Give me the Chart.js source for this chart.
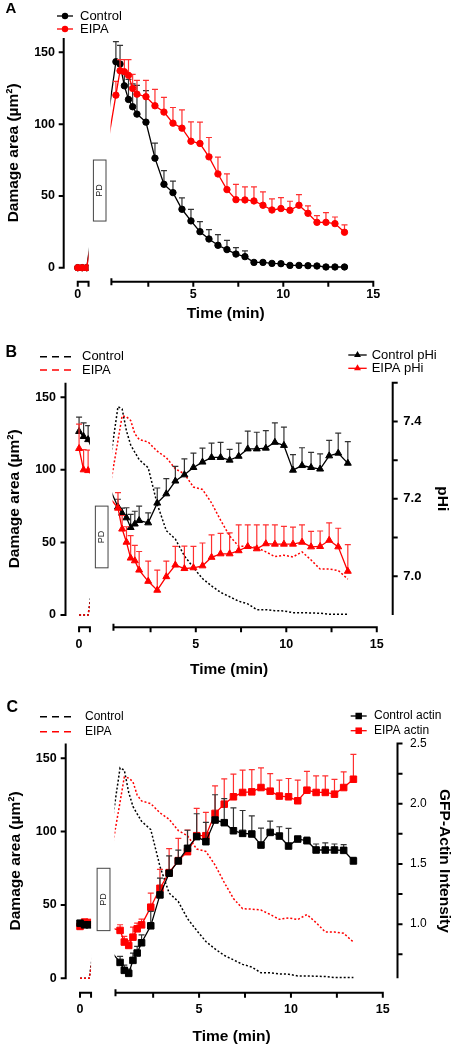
<!DOCTYPE html>
<html>
<head>
<meta charset="utf-8">
<script src="https://cdn.jsdelivr.net/npm/chart.js@4/dist/chart.umd.min.js"></script>
<style>
  body { margin: 0; background: #fff; }
  canvas { display: block; }
</style>
</head>
<body>
<canvas id="panelA" width="458" height="330"></canvas>
<canvas id="panelB" width="458" height="360"></canvas>
<canvas id="panelC" width="458" height="360"></canvas>
<script>
// sampling times (min): before photodamage, then after it
const preTimes = [0, 0.25, 0.5];
const times = [0.7, 0.93, 1.17, 1.4, 1.63, 1.87, 2.37, 2.87, 3.37, 3.87, 4.37, 4.87, 5.37, 5.87,
  6.37, 6.87, 7.37, 7.87, 8.37, 8.87, 9.37, 9.87, 10.37, 10.87, 11.37, 11.87, 12.37, 12.87, 13.4];

// damage area (um2)
const ctrlPreArea = [0, 0, 0];
const eipaPreArea = [0, 0, 0];
const preAreaErr = [0, 0, 0];
const ctrlArea = [143.5, 141.9, 126.7, 117.2, 112.1, 107.0, 101.4, 76.3, 58.1, 52.3, 40.7, 32.6, 25.1, 20.0,
  15.6, 12.6, 9.5, 7.7, 3.7, 3.7, 3.0, 2.8, 1.6, 1.6, 1.4, 1.2, 0.5, 0.5, 0.5];
const ctrlAreaErr = [14, 13, 10, 14, 16, 20, 22, 10.5, 9.5, 8, 8, 8, 7, 6.5,
  7.5, 6.5, 4.5, 4, 1, 1, 0.8, 0.8, 0.6, 0.6, 0.5, 0.5, 0.4, 0.4, 0.4];
const eipaArea = [120.2, 137.2, 136.5, 134.0, 124.9, 120.9, 119.1, 112.8, 108.4, 100.7, 97.2, 88.1, 86.5, 77.2,
  65.3, 54.4, 47.4, 47.2, 46.5, 43.5, 40.2, 41.2, 40.0, 43.5, 37.9, 31.6, 31.6, 30.7, 24.7];
const eipaAreaErr = [9.6, 7.7, 8.4, 10.9, 9.8, 9.6, 11.4, 11.4, 10.2, 10.9, 12.8, 13.5, 14.9, 13.5,
  11.7, 10.9, 10.7, 9.1, 9.8, 9.3, 7.7, 7.6, 6.3, 7.4, 5.1, 4.7, 6.8, 4.6, 5.1];

// intracellular pH
const ctrlPrePH = [7.374, 7.361, 7.353];
const ctrlPrePHErr = [0.037, 0.035, 0.036];
const eipaPrePH = [7.33, 7.275, 7.273];
const eipaPrePHErr = [0.063, 0.052, 0.053];
const ctrlPH = [7.179, 7.163, 7.151, 7.126, 7.135, 7.144, 7.138, 7.189, 7.213, 7.246, 7.262, 7.281, 7.295, 7.307,
  7.307, 7.300, 7.310, 7.329, 7.329, 7.331, 7.346, 7.338, 7.274, 7.286, 7.281, 7.277, 7.311, 7.318, 7.292];
const ctrlPHErr = [0.02, 0.013, 0.026, 0.034, 0.033, 0.037, 0.026, 0.039, 0.039, 0.038, 0.041, 0.037, 0.036, 0.037,
  0.039, 0.028, 0.034, 0.046, 0.043, 0.045, 0.05, 0.047, 0.04, 0.046, 0.039, 0.039, 0.04, 0.052, 0.056];
const eipaPH = [7.176, 7.122, 7.088, 7.047, 7.040, 7.016, 6.987, 6.964, 6.999, 7.029, 7.020, 7.022, 7.027, 7.049,
  7.058, 7.058, 7.066, 7.077, 7.071, 7.084, 7.083, 7.083, 7.083, 7.088, 7.076, 7.077, 7.093, 7.076, 7.013];
const eipaPHErr = [0.04, 0.035, 0.04, 0.058, 0.04, 0.048, 0.052, 0.052, 0.04, 0.048, 0.058, 0.055, 0.059, 0.058,
  0.053, 0.054, 0.067, 0.056, 0.062, 0.049, 0.05, 0.046, 0.044, 0.045, 0.04, 0.04, 0.045, 0.048, 0.069];

// GFP-actin intensity
const ctrlPreActin = [1.008, 0.994, 0.994];
const eipaPreActin = [0.981, 1.017, 1.014];
const preActinErr = [0, 0, 0];
const ctrlActin = [0.682, 0.616, 0.591, 0.699, 0.760, 0.845, 0.986, 1.243, 1.423, 1.525, 1.630, 1.727, 1.685, 1.865,
  1.843, 1.776, 1.754, 1.749, 1.657, 1.762, 1.732, 1.649, 1.707, 1.693, 1.616, 1.616, 1.616, 1.613, 1.525];
const ctrlActinErr = [0.05, 0.044, 0.035, 0.06, 0.055, 0.066, 0.12, 0.14, 0.144, 0.09, 0.15, 0.19, 0.16, 0.21,
  0.2, 0.19, 0.19, 0.15, 0.14, 0.094, 0.077, 0.146, 0.02, 0.03, 0.05, 0.06, 0.05, 0.047, 0.03];
const eipaActin = [0.948, 0.851, 0.823, 0.892, 0.961, 0.994, 1.141, 1.298, 1.428, 1.528, 1.602, 1.735, 1.735, 1.920,
  1.997, 2.058, 2.094, 2.099, 2.135, 2.105, 2.064, 2.058, 2.025, 2.113, 2.094, 2.094, 2.080, 2.135, 2.204];
const eipaActinErr = [0.047, 0.047, 0.04, 0.083, 0.047, 0.047, 0.116, 0.157, 0.2, 0.185, 0.18, 0.226, 0.193, 0.229,
  0.21, 0.188, 0.185, 0.185, 0.163, 0.146, 0.133, 0.152, 0.171, 0.157, 0.138, 0.138, 0.122, 0.13, 0.207];

// ticks
const xTickValues = [0, 5, 10, 15];   // first one sits on the pre-damage segment
const xTickLabels = ['0', '5', '10', '15'];
const xMinorTicks = [2.5, 7.5, 12.5];
const areaTicks = [0, 50, 100, 150];
const phTicks = [7.0, 7.2, 7.4];
const phTickLabels = ['7.0', '7.2', '7.4'];
const phMinorTicks = [7.1, 7.3, 7.5];
const actinTicks = [1.0, 1.5, 2.0, 2.5];
const actinTickLabels = ['1.0', '1.5', '2.0', '2.5'];
const actinMinorTicks = [0.75, 1.25, 1.75, 2.25];

const RED = '#ff0000';
const RED_BAR = '#ff3030';
const FONT = "'Liberation Sans', Arial, sans-serif";
Chart.defaults.font.family = FONT;
Chart.defaults.color = '#000';

// broken time axis: pre segment covers 0..0.6 min, main segment starts at 0.45
const SEG1_END = 0.6, SEG2_START = 0.45, GAP_END = 0.4;
const PD_BOX = { x0: -0.55, x1: 0.15, y0: 32.5, y1: 75 };

function series(pre, post, shift) {
  const pts = pre.map((v, i) => ({ x: preTimes[i] + shift, y: v }));
  return pts.concat(post.map((v, i) => ({ x: times[i], y: v })));
}

function markerSet(label, color, barColor, pre, post, preErr, postErr, shift, style, radius, axis, order) {
  return {
    label, data: series(pre, post, shift), errors: preErr.concat(postErr), errorColor: barColor,
    yAxisID: axis, order, clip: false,
    borderColor: color, backgroundColor: color, borderWidth: 1.3,
    pointStyle: style, pointRadius: radius, pointBorderWidth: 1,
    pointBackgroundColor: color, pointBorderColor: color
  };
}

function dottedSet(label, color, pre, post, shift, order) {
  return {
    label, data: series(pre, post, shift), legendDash: true, yAxisID: 'y', order, clip: false,
    borderColor: color, borderWidth: 1.5, borderDash: [2, 2], pointRadius: 0
  };
}

function drawMarker(ctx, style, x, y, r, color) {
  ctx.fillStyle = color;
  ctx.beginPath();
  if (style === 'triangle') {
    ctx.moveTo(x, y - r);
    ctx.lineTo(x + r * 0.866, y + r / 2);
    ctx.lineTo(x - r * 0.866, y + r / 2);
    ctx.closePath();
  } else if (style === 'rect') {
    const s = r * Math.SQRT1_2;
    ctx.rect(x - s, y - s, 2 * s, 2 * s);
  } else {
    ctx.arc(x, y, r, 0, Math.PI * 2);
  }
  ctx.fill();
}

// axes in Prism style, error bars, the PD box, legends and the panel letter
function prismPlugin(cfg) {
  return {
    id: 'prism',
    beforeDatasetsDraw(chart) {
      const { ctx, scales: { x }, width, height } = chart;
      const g0 = x.getPixelForValue(cfg.shift + SEG1_END);
      const g1 = x.getPixelForValue(GAP_END);
      ctx.save();
      ctx.beginPath();
      ctx.rect(0, 0, g0, height);
      ctx.rect(g1, 0, width - g1, height);
      ctx.clip();
    },
    afterDatasetsDraw(chart) {
      chart.ctx.restore();
    },
    beforeDatasetDraw(chart, args) {
      const ds = chart.data.datasets[args.index];
      if (!ds.errors) return;
      const ctx = chart.ctx;
      const ys = chart.scales[ds.yAxisID];
      ctx.save();
      ctx.strokeStyle = ds.errorColor;
      ctx.lineWidth = 1.2;
      ctx.beginPath();
      args.meta.data.forEach((el, i) => {
        const e = ds.errors[i];
        if (!e) return;
        const top = ys.getPixelForValue(ds.data[i].y + e);
        ctx.moveTo(el.x, el.y);
        ctx.lineTo(el.x, top);
        ctx.moveTo(el.x - 3, top);
        ctx.lineTo(el.x + 3, top);
      });
      ctx.stroke();
      ctx.restore();
    },
    afterDraw(chart) {
      const { ctx, chartArea: a, scales } = chart;
      const x = scales.x, y = scales.y;
      ctx.save();
      ctx.strokeStyle = '#000';
      ctx.lineWidth = 2;
      ctx.beginPath();
      // left axis
      ctx.moveTo(a.left, a.top);
      ctx.lineTo(a.left, a.bottom + 1);
      areaTicks.forEach(v => {
        const py = y.getPixelForValue(v);
        ctx.moveTo(a.left - 5, py);
        ctx.lineTo(a.left + 1, py);
      });
      // broken time axis
      const ay = cfg.axisY;
      const s0 = x.getPixelForValue(cfg.shift), s1 = x.getPixelForValue(cfg.shift + SEG1_END);
      ctx.moveTo(s0, ay + 5);
      ctx.lineTo(s0, ay);
      ctx.lineTo(s1, ay);
      ctx.lineTo(s1, ay + 5);
      const b0 = x.getPixelForValue(SEG2_START);
      const b1 = x.getPixelForValue(xTickValues[xTickValues.length - 1]);
      ctx.moveTo(b0, ay - 3.5);
      ctx.lineTo(b0, ay + 3.5);
      ctx.moveTo(b0, ay);
      ctx.lineTo(b1 + 1, ay);
      xTickValues.slice(1).concat(xMinorTicks).forEach(v => {
        const px = x.getPixelForValue(v);
        ctx.moveTo(px, ay - 1);
        ctx.lineTo(px, ay + 5);
      });
      // right axis
      if (cfg.rightAxis) {
        const r = cfg.rightAxis, ys = scales.y1;
        ctx.moveTo(a.right, a.top);
        ctx.lineTo(a.right, a.bottom);
        r.ticks.concat(r.minor).forEach(v => {
          const py = ys.getPixelForValue(v);
          ctx.moveTo(a.right - 1, py);
          ctx.lineTo(a.right + 5, py);
        });
      }
      ctx.stroke();

      // photodamage box
      const px0 = x.getPixelForValue(PD_BOX.x0), px1 = x.getPixelForValue(PD_BOX.x1);
      const py0 = y.getPixelForValue(PD_BOX.y1), py1 = y.getPixelForValue(PD_BOX.y0);
      ctx.fillStyle = '#fff';
      ctx.fillRect(px0, py0, px1 - px0, py1 - py0);
      ctx.strokeStyle = '#444';
      ctx.lineWidth = 1;
      ctx.strokeRect(px0, py0, px1 - px0, py1 - py0);
      ctx.save();
      ctx.translate((px0 + px1) / 2, (py0 + py1) / 2);
      ctx.rotate(-Math.PI / 2);
      ctx.fillStyle = '#222';
      ctx.font = '9px ' + FONT;
      ctx.textAlign = 'center';
      ctx.textBaseline = 'middle';
      ctx.fillText('PD', 0, 0);
      ctx.restore();

      // legends
      ctx.textAlign = 'left';
      ctx.textBaseline = 'middle';
      ctx.font = cfg.legendFont + 'px ' + FONT;
      cfg.legend.forEach(item => {
        const ds = chart.data.datasets[item.ds];
        ctx.strokeStyle = ds.borderColor;
        ctx.beginPath();
        if (ds.legendDash) {
          ctx.lineWidth = 1.5;
          ctx.setLineDash([7, 5]);
        } else {
          ctx.lineWidth = 1.3;
        }
        ctx.moveTo(item.x0, item.y);
        ctx.lineTo(item.x1, item.y);
        ctx.stroke();
        ctx.setLineDash([]);
        if (!ds.legendDash) {
          drawMarker(ctx, ds.pointStyle, (item.x0 + item.x1) / 2, item.y, ds.pointRadius, ds.borderColor);
        }
        ctx.fillStyle = '#000';
        ctx.fillText(ds.label, item.tx, item.y);
      });

      // panel letter
      ctx.font = 'bold ' + cfg.letterSize + 'px ' + FONT;
      ctx.fillStyle = '#000';
      ctx.fillText(cfg.letter, cfg.letterPos[0], cfg.letterPos[1]);
      ctx.restore();
    }
  };
}

function makePanel(id, cfg, datasets) {
  const scales = {
    x: {
      type: 'linear', min: cfg.xMin, max: cfg.xMax,
      afterBuildTicks: s => { s.ticks = xTickValues.map((v, i) => ({ value: i === 0 ? v + cfg.shift : v })); },
      afterFit: s => { s.height = cfg.h - cfg.bottom; },
      grid: { display: false, drawTicks: false },
      border: { display: false },
      ticks: {
        autoSkip: false, maxRotation: 0, padding: cfg.xLabelPad,
        font: { size: 12.5, weight: 'bold' },
        callback: (v, i) => xTickLabels[i]
      },
      title: { display: true, text: 'Time (min)', font: { size: 15.5, weight: 'bold' },
        padding: { top: 0, bottom: cfg.xTitlePad } }
    },
    y: {
      type: 'linear', position: 'left', min: 0, max: 160,
      afterBuildTicks: s => { s.ticks = areaTicks.map(v => ({ value: v })); },
      afterFit: s => { s.width = cfg.left; },
      grid: { display: false, drawTicks: false },
      border: { display: false },
      ticks: { padding: cfg.yLabelPad, font: { size: 12.5, weight: 'bold' } },
      title: { display: true, text: 'Damage area (µm²)', font: { size: 15.5, weight: 'bold' },
        padding: { top: cfg.yTitlePad, bottom: 0 } }
    }
  };
  const r = cfg.rightAxis;
  if (r) {
    scales.y1 = {
      type: 'linear', position: 'right', min: r.min, max: r.max,
      afterBuildTicks: s => { s.ticks = r.ticks.map(v => ({ value: v })); },
      afterFit: s => { s.width = 458 - cfg.right; },
      grid: { display: false, drawTicks: false },
      border: { display: false },
      ticks: { padding: r.labelPad, font: r.font, callback: (v, i) => r.labels[i] },
      title: { display: true, text: r.title, font: { size: 15.5, weight: 'bold' },
        padding: { top: r.titlePad, bottom: 0 } }
    };
  }
  return new Chart(document.getElementById(id), {
    type: 'line',
    data: { datasets },
    options: {
      responsive: false,
      animation: false,
      events: [],
      layout: { padding: { top: cfg.top, left: 0, bottom: 0, right: r ? 0 : 458 - cfg.right } },
      plugins: { legend: { display: false }, tooltip: { enabled: false } },
      scales
    },
    plugins: [prismPlugin(cfg)]
  });
}

// Panel A: damage area
const cfgA = {
  h: 330, top: 38, bottom: 267.7, left: 63.7, right: 387.7, xMin: -2.2, xMax: 15.8, shift: -1.42,
  axisY: 281.7, yLabelPad: 8.7, xLabelPad: 19.8, xTitlePad: 7.4, yTitlePad: 4.7,
  letter: 'A', letterPos: [5.5, 8.5], letterSize: 15, legendFont: 13,
  legend: [{ ds: 0, x0: 57, x1: 73, y: 16, tx: 80 }, { ds: 1, x0: 57, x1: 73, y: 29, tx: 80 }]
};
makePanel('panelA', cfgA, [
  markerSet('Control', '#000', '#333', ctrlPreArea, ctrlArea, preAreaErr, ctrlAreaErr, cfgA.shift, 'circle', 3.2, 'y', 1),
  markerSet('EIPA', RED, RED_BAR, eipaPreArea, eipaArea, preAreaErr, eipaAreaErr, cfgA.shift, 'circle', 3.2, 'y', 0)
]);

// Panel B: damage area with pHi
const cfgB = {
  h: 360, top: 52.7, bottom: 285, left: 65.5, right: 392.7, xMin: -2.2, xMax: 15.88, shift: -1.45,
  axisY: 297.3, yLabelPad: 9.5, xLabelPad: 22.5, xTitlePad: 10.7, yTitlePad: 5.7,
  letter: 'B', letterPos: [5.5, 22.3], letterSize: 16, legendFont: 13,
  rightAxis: { min: 6.9, max: 7.5, ticks: phTicks, labels: phTickLabels, minor: phMinorTicks,
    title: 'pHi', titlePad: 6.2, labelPad: 10.6, font: { size: 13, weight: 'bold' } },
  legend: [
    { ds: 0, x0: 40, x1: 75, y: 26.7, tx: 82 }, { ds: 1, x0: 40, x1: 75, y: 40, tx: 82 },
    { ds: 2, x0: 348.3, x1: 366.7, y: 25, tx: 371.7 }, { ds: 3, x0: 348.3, x1: 366.7, y: 38.3, tx: 371.7 }
  ]
};
makePanel('panelB', cfgB, [
  dottedSet('Control', '#000', ctrlPreArea, ctrlArea, cfgB.shift, 11),
  dottedSet('EIPA', RED, eipaPreArea, eipaArea, cfgB.shift, 10),
  markerSet('Control pHi', '#000', '#333', ctrlPrePH, ctrlPH, ctrlPrePHErr, ctrlPHErr, cfgB.shift, 'triangle', 4, 'y1', 1),
  markerSet('EIPA pHi', RED, RED_BAR, eipaPrePH, eipaPH, eipaPrePHErr, eipaPHErr, cfgB.shift, 'triangle', 4, 'y1', 0)
]);

// Panel C: damage area with GFP-actin
const cfgC = {
  h: 360, top: 53.6, bottom: 288.3, left: 65.7, right: 397.5, xMin: -2.26, xMax: 15.8, shift: -1.48,
  axisY: 302.7, yLabelPad: 9, xLabelPad: 23.5, xTitlePad: 4, yTitlePad: 6.5,
  letter: 'C', letterPos: [6.5, 17.5], letterSize: 16, legendFont: 12,
  rightAxis: { min: 0.55, max: 2.5, ticks: actinTicks, labels: actinTickLabels, minor: actinMinorTicks,
    title: 'GFP-Actin Intensity', titlePad: 4, labelPad: 12.5, font: { size: 12 } },
  legend: [
    { ds: 0, x0: 40, x1: 76, y: 26.7, tx: 85 }, { ds: 1, x0: 40, x1: 76, y: 41.7, tx: 85 },
    { ds: 2, x0: 350.7, x1: 366.7, y: 26, tx: 374 }, { ds: 3, x0: 350.7, x1: 366.7, y: 40.7, tx: 374 }
  ]
};
makePanel('panelC', cfgC, [
  dottedSet('Control', '#000', ctrlPreArea, ctrlArea, cfgC.shift, 11),
  dottedSet('EIPA', RED, eipaPreArea, eipaArea, cfgC.shift, 10),
  markerSet('Control actin', '#000', '#333', ctrlPreActin, ctrlActin, preActinErr, ctrlActinErr, cfgC.shift, 'rect', 4.6, 'y1', 0),
  markerSet('EIPA actin', RED, RED_BAR, eipaPreActin, eipaActin, preActinErr, eipaActinErr, cfgC.shift, 'rect', 4.6, 'y1', 1)
]);
</script>
</body>
</html>
